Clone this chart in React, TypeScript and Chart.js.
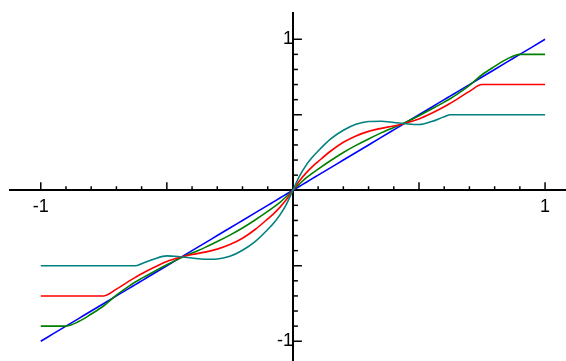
import React, { useEffect, useRef } from "react";
import { Chart, registerables } from "chart.js";

Chart.register(...registerables);

const xValues = [
  -1, -0.95, -0.9, -0.85, -0.8, -0.75, -0.7, -0.65, -0.625, -0.6, -0.55, -0.5,
  -0.45, -0.4, -0.35, -0.3, -0.25, -0.2, -0.15, -0.1, -0.075, -0.05, -0.025,
  0,
  0.025, 0.05, 0.075, 0.1, 0.15, 0.2, 0.25, 0.3, 0.35, 0.4, 0.45, 0.5, 0.55,
  0.6, 0.625, 0.65, 0.7, 0.75, 0.8, 0.85, 0.9, 0.95, 1,
];

const tealValues = [
  -0.5, -0.5, -0.5, -0.5, -0.5, -0.5, -0.5, -0.5, -0.5, -0.487, -0.455, -0.435,
  -0.44, -0.449, -0.457, -0.455, -0.437, -0.397, -0.34, -0.26, -0.215, -0.16, -0.09,
  0,
  0.09, 0.16, 0.215, 0.26, 0.34, 0.397, 0.437, 0.455, 0.457, 0.449, 0.44, 0.435, 0.455,
  0.487, 0.5, 0.5, 0.5, 0.5, 0.5, 0.5, 0.5, 0.5, 0.5,
];

const redValues = [
  -0.7, -0.7, -0.7, -0.7, -0.7, -0.7, -0.655, -0.602, -0.577, -0.553, -0.51, -0.472,
  -0.446, -0.426, -0.41, -0.39, -0.36, -0.318, -0.26, -0.19, -0.153, -0.11, -0.06,
  0,
  0.06, 0.11, 0.153, 0.19, 0.26, 0.318, 0.36, 0.39, 0.41, 0.426, 0.446, 0.472, 0.51,
  0.553, 0.577, 0.602, 0.655, 0.7, 0.7, 0.7, 0.7, 0.7, 0.7,
];

const greenValues = [
  -0.9, -0.9, -0.9, -0.87, -0.82, -0.765, -0.695, -0.635, -0.608, -0.584, -0.538, -0.494,
  -0.453, -0.416, -0.38, -0.34, -0.297, -0.25, -0.197, -0.14, -0.11, -0.078, -0.04,
  0,
  0.04, 0.078, 0.11, 0.14, 0.197, 0.25, 0.297, 0.34, 0.38, 0.416, 0.453, 0.494, 0.538,
  0.584, 0.608, 0.635, 0.695, 0.765, 0.82, 0.87, 0.9, 0.9, 0.9,
];

const blueValues = [
  -1, -0.95, -0.9, -0.85, -0.8, -0.75, -0.7, -0.65, -0.625, -0.6, -0.55, -0.5,
  -0.45, -0.4, -0.35, -0.3, -0.25, -0.2, -0.15, -0.1, -0.075, -0.05, -0.025,
  0,
  0.025, 0.05, 0.075, 0.1, 0.15, 0.2, 0.25, 0.3, 0.35, 0.4, 0.45, 0.5, 0.55,
  0.6, 0.625, 0.65, 0.7, 0.75, 0.8, 0.85, 0.9, 0.95, 1,
];

const tickValues = [
  -1, -0.9, -0.8, -0.7, -0.6, -0.5, -0.4, -0.3, -0.2, -0.1, 0,
  0.1, 0.2, 0.3, 0.4, 0.5, 0.6, 0.7, 0.8, 0.9, 1,
];
const majorTicks = [-1, -0.5, 0.5, 1];
const labelledTicks = [-1, 1];

const toPoints = (ys: number[]) => xValues.map((x, i) => ({ x, y: ys[i] }));

const tickMarksPlugin = {
  id: "tickMarks",
  beforeDatasetsDraw(chart: any) {
    const { ctx } = chart;
    const xs = chart.scales.x;
    const ys = chart.scales.y;
    const x0 = xs.getPixelForValue(0);
    const y0 = ys.getPixelForValue(0);
    ctx.save();
    ctx.strokeStyle = "#000";
    ctx.lineWidth = 1.5;
    tickValues.forEach((v) => {
      if (v === 0) return;
      const major = majorTicks.includes(v);
      const px = xs.getPixelForValue(v);
      ctx.beginPath();
      ctx.moveTo(px, y0);
      ctx.lineTo(px, y0 - (major ? 8 : 4));
      ctx.stroke();
      const py = ys.getPixelForValue(v);
      ctx.beginPath();
      ctx.moveTo(x0, py);
      ctx.lineTo(x0 + (major ? 9 : 5), py);
      ctx.stroke();
    });
    ctx.restore();
  },
};

const axisCommon = (extra: any) => ({
  type: "linear",
  afterBuildTicks: (s: any) => {
    s.ticks = tickValues.map((v) => ({ value: v }));
  },
  afterFit: (s: any) => {
    if (s.isHorizontal()) s.height = 0;
    else s.width = 0;
    s.paddingTop = 0;
    s.paddingBottom = 0;
    s.paddingLeft = 0;
    s.paddingRight = 0;
  },
  grid: { display: true, drawOnChartArea: false, drawTicks: false },
  border: { display: true, color: "#000", width: 2 },
  ...extra,
});

const labelFont = { family: "'Liberation Sans', Arial, sans-serif", size: 18 };

export default function App() {
  const ref = useRef<HTMLCanvasElement>(null);
  useEffect(() => {
    document.body.style.margin = "0";
    const ctx = ref.current!;
    const mk = (label: string, ys: number[], color: string) => ({
      label,
      data: toPoints(ys),
      borderColor: color,
      backgroundColor: color,
      borderWidth: 1.6,
      pointRadius: 0,
      fill: false,
      cubicInterpolationMode: "monotone" as const,
    });
    const chart = new Chart(ctx, {
      type: "line",
      data: {
        datasets: [
          mk("teal", tealValues, "#008080"),
          mk("red", redValues, "#ff0000"),
          mk("green", greenValues, "#008000"),
          mk("blue", blueValues, "#0000ff"),
        ],
      },
      options: {
        animation: false,
        responsive: false,
        devicePixelRatio: 1,
        layout: { padding: { left: 10, top: 13, right: 0, bottom: 0 } },
        plugins: { legend: { display: false }, tooltip: { enabled: false } },
        scales: {
          x: axisCommon({
            position: { y: 0 },
            min: -1.122,
            max: 1.083,
            ticks: {
              autoSkip: false,
              maxRotation: 0,
              padding: 6,
              color: "#000",
              font: labelFont,
              callback: (v: any) => (labelledTicks.includes(v) ? String(v) : ""),
            },
          }),
          y: axisCommon({
            position: { x: 0 },
            min: -1.131,
            max: 1.174,
            ticks: {
              autoSkip: false,
              padding: 11,
              color: "#000",
              font: labelFont,
              callback: (v: any) => (labelledTicks.includes(v) ? String(v) : ""),
            },
          }),
        },
      },
      plugins: [tickMarksPlugin],
    } as any);
    return () => chart.destroy();
  }, []);
  return (
    <div style={{ width: 566, height: 361 }}>
      <canvas ref={ref} width={566} height={361} />
    </div>
  );
}
